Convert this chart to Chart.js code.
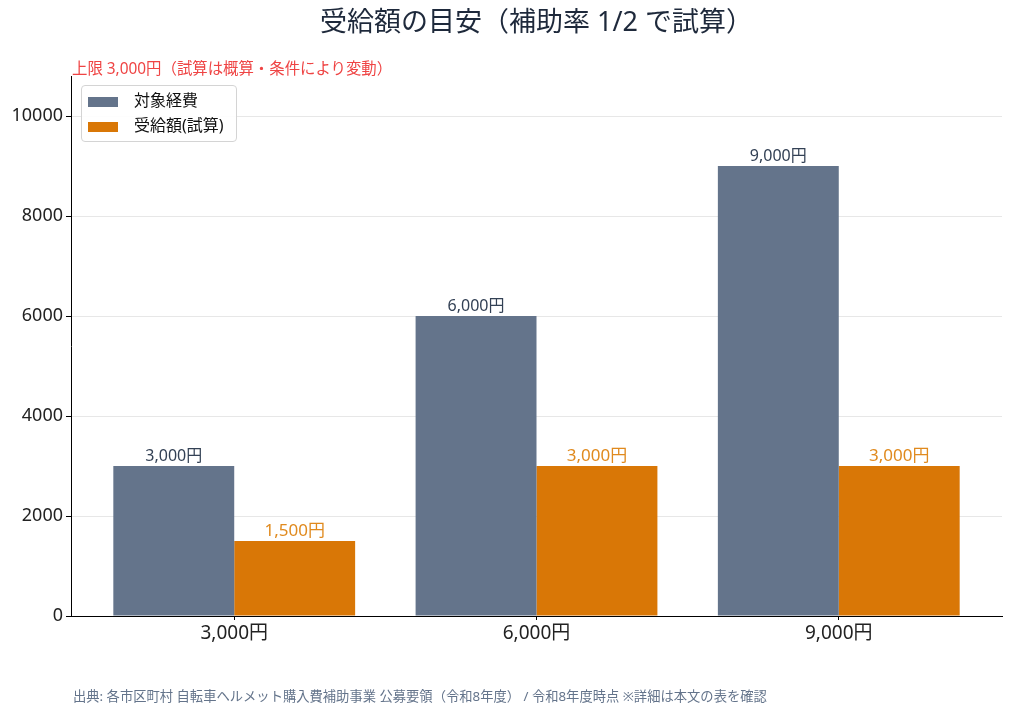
<!DOCTYPE html>
<html lang="ja">
<head>
<meta charset="utf-8">
<script src="https://cdn.jsdelivr.net/npm/chart.js@4/dist/chart.umd.min.js"></script>
<style>
  html, body { margin: 0; padding: 0; background: #fff; }
  body { font-family: "Noto Sans", "Noto Sans CJK JP", sans-serif; }
  #wrap { position: relative; width: 1011px; height: 715px; }
  #chart { position: absolute; left: 0; top: 0; }
  .title { position: absolute; left: 0; top: 0px; width: 1073px; text-align: center;
           font-size: 27px; color: #1e293b; }
  .note { position: absolute; left: 72px; top: 56px; font-size: 15.4px; color: #ef4444; }
  .src { position: absolute; left: 73px; top: 686px; font-size: 13.3px; color: #64748b; }
  .legend { position: absolute; left: 81px; top: 85px; width: 156px; height: 57px;
            border: 1px solid #d4d4d4; border-radius: 4px; background: rgba(255,255,255,0.9);
            box-sizing: border-box; font-size: 16px; color: #111; }
  .legend .row { position: absolute; left: 6px; height: 22px; line-height: 22px; white-space: nowrap; }
  .legend .sw { display: inline-block; width: 30px; height: 10px; vertical-align: middle; margin-right: 16px; }
</style>
</head>
<body>
<div id="wrap">
  <canvas id="chart" width="1011" height="715"></canvas>
  <div class="title">受給額の目安（補助率 1/2 で試算）</div>
  <div class="note">上限 3,000円（試算は概算・条件により変動）</div>
  <div class="legend" id="legend"></div>
  <div class="src">出典: 各市区町村 自転車ヘルメット購入費補助事業 公募要領（令和8年度） / 令和8年度時点 ※詳細は本文の表を確認</div>
</div>
<script>
const categories = ['3,000円', '6,000円', '9,000円'];
const seriesNames = ['対象経費', '受給額(試算)'];
const costValues = [3000, 6000, 9000];
const grantValues = [1500, 3000, 3000];
const yTicks = [0, 2000, 4000, 6000, 8000, 10000];

const GRAY = '#64748b';
const ORANGE = '#d97706';
const FONT = '"Noto Sans", "Noto Sans CJK JP", sans-serif';

const yen = v => v.toLocaleString('en-US') + '円';

// legend (html, inside the plot like the original)
const legend = document.getElementById('legend');
[GRAY, ORANGE].forEach((c, i) => {
  legend.innerHTML += `<div class="row" style="top:${3 + i * 25}px"><span class="sw" style="background:${c}"></span>${seriesNames[i]}</div>`;
});

const valueLabels = {
  id: 'valueLabels',
  afterDatasetsDraw(chart) {
    const ctx = chart.ctx;
    ctx.save();
    ctx.textAlign = 'center';
    ctx.textBaseline = 'alphabetic';
    chart.data.datasets.forEach((ds, di) => {
      const meta = chart.getDatasetMeta(di);
      ctx.fillStyle = di === 0 ? '#334155' : '#e08a1e';
      ctx.font = (di === 0 ? '16px ' : '17px ') + FONT;
      meta.data.forEach((bar, i) => {
        ctx.fillText(yen(ds.data[i].y), bar.x, bar.y - 5);
      });
    });
    ctx.restore();
  }
};

new Chart(document.getElementById('chart'), {
  type: 'bar',
  data: {
    datasets: [
      { label: seriesNames[0], data: costValues.map((v, i) => ({ x: i, y: v })), backgroundColor: GRAY },
      { label: seriesNames[1], data: grantValues.map((v, i) => ({ x: i, y: v })), backgroundColor: ORANGE }
    ]
  },
  options: {
    responsive: false,
    animation: false,
    layout: { padding: { left: 0, top: 76, right: 9, bottom: 59 } },
    datasets: { bar: { categoryPercentage: 0.8, barPercentage: 1.0 } },
    scales: {
      x: {
        type: 'linear',
        min: -0.54,
        max: 2.54,
        offset: false,
        afterBuildTicks: s => { s.ticks = categories.map((_, i) => ({ value: i })); },
        afterFit: s => { s.height = 40; },
        ticks: {
          callback: v => categories[v],
          color: '#222',
          font: { family: FONT, size: 19 },
          padding: 2,
          maxRotation: 0
        },
        grid: { offset: false, drawOnChartArea: false, drawTicks: true, tickLength: 4, tickColor: '#000' },
        border: { color: '#000', width: 1 }
      },
      y: {
        min: 0,
        max: 10800,
        z: 1,
        afterBuildTicks: s => { s.ticks = yTicks.map(v => ({ value: v })); },
        afterFit: s => { s.width = 71; },
        ticks: {
          callback: v => String(v),
          color: '#222',
          font: { family: FONT, size: 18 },
          padding: 3
        },
        grid: { color: 'rgba(176,176,176,0.3)', tickColor: '#000', tickLength: 5 },
        border: { color: '#000', width: 1 }
      }
    },
    plugins: {
      legend: { display: false },
      title: { display: false },
      tooltip: { enabled: false }
    }
  },
  plugins: [valueLabels]
});
</script>
</body>
</html>
